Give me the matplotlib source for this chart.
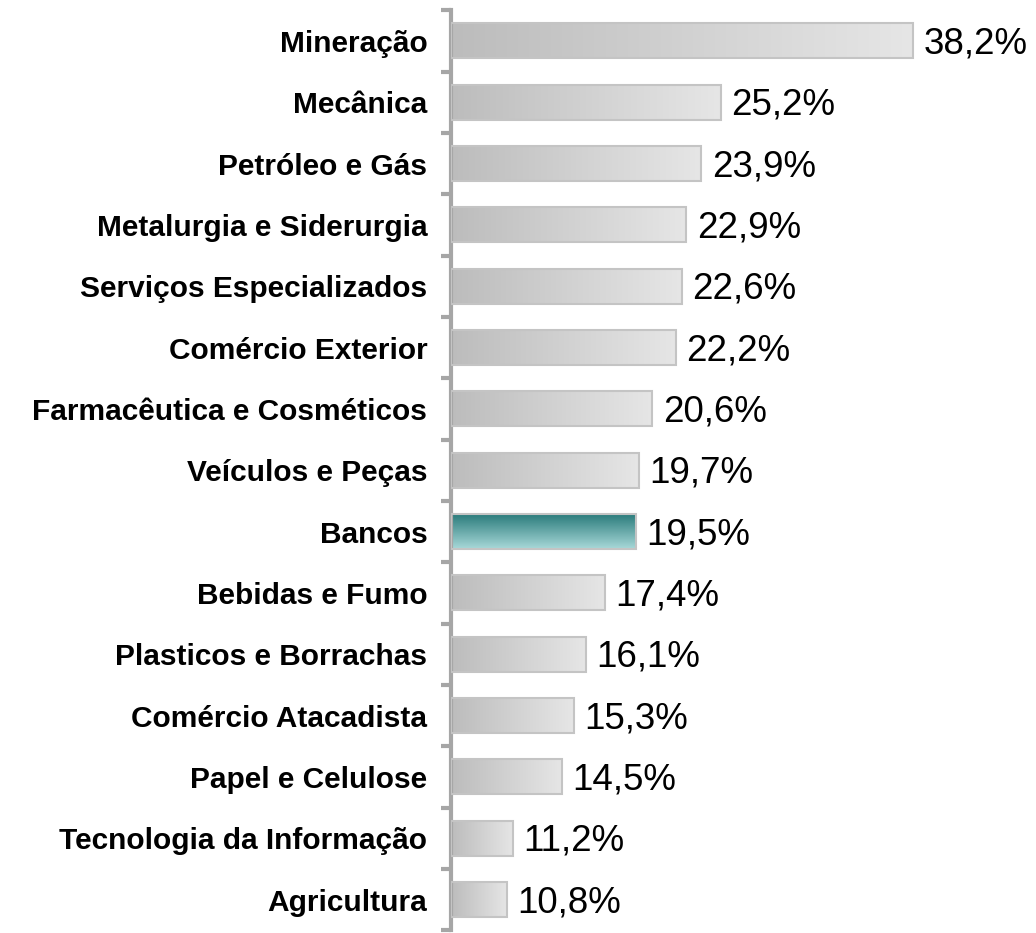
import numpy as np
import matplotlib.pyplot as plt
from matplotlib.colors import LinearSegmentedColormap

# data (top to bottom)
categories = ["Mineração", "Mecânica", "Petróleo e Gás", "Metalurgia e Siderurgia",
              "Serviços Especializados", "Comércio Exterior", "Farmacêutica e Cosméticos",
              "Veículos e Peças", "Bancos", "Bebidas e Fumo", "Plasticos e Borrachas",
              "Comércio Atacadista", "Papel e Celulose", "Tecnologia da Informação",
              "Agricultura"]
values = [38.2, 25.2, 23.9, 22.9, 22.6, 22.2, 20.6, 19.7, 19.5, 17.4, 16.1, 15.3, 14.5, 11.2, 10.8]
labels = ["38,2%", "25,2%", "23,9%", "22,9%", "22,6%", "22,2%", "20,6%", "19,7%", "19,5%",
          "17,4%", "16,1%", "15,3%", "14,5%", "11,2%", "10,8%"]
highlight = "Bancos"

plt.rcParams['font.family'] = ['Liberation Sans', 'DejaVu Sans']

fig = plt.figure(figsize=(10.36, 9.33), dpi=100)
ax = fig.add_axes([0.4353, 0.003, 0.5647, 0.986])

n = len(categories)
y = np.arange(n)[::-1]
x0 = 7.0
bars = ax.barh(y, np.array(values) - x0, left=x0, height=0.57,
               color='none', edgecolor='#c4c4c4', linewidth=1.5, zorder=3)

gray_cmap = LinearSegmentedColormap.from_list('g', ['#bcbcbc', '#e6e6e6'])
teal_cmap = LinearSegmentedColormap.from_list('t', ['#a9d9d9', '#2a7b7b'])
ramp = np.linspace(0, 1, 256)

# gradient fills clipped to each bar
for bar, cat in zip(bars, categories):
    bx, by = bar.get_x(), bar.get_y()
    bw, bh = bar.get_width(), bar.get_height()
    if cat == highlight:
        img = ax.imshow(ramp.reshape(-1, 1), cmap=teal_cmap, aspect='auto',
                        extent=(bx, bx + bw, by, by + bh), origin='lower', zorder=2)
    else:
        img = ax.imshow(ramp.reshape(1, -1), cmap=gray_cmap, aspect='auto',
                        extent=(bx, bx + bw, by, by + bh), origin='lower', zorder=2)
    img.set_clip_path(bar)

for yi, v, lab in zip(y, values, labels):
    ax.text(v + 0.7, yi - 0.05, lab, va='center', ha='left', fontsize=26.5, color='black')

ax.set_xlim(x0, 46.5)
ax.set_ylim(-0.5, n - 0.5)
ax.set_yticks(y)
ax.set_yticklabels(categories, fontsize=21.5, fontweight='bold')
ax.set_yticks(np.arange(n + 1) - 0.5, minor=True)
ax.tick_params(axis='y', which='major', length=0, pad=17)
ax.tick_params(axis='y', which='minor', length=7, width=3, color='#a6a6a6')
ax.set_xticks([])
for s in ['top', 'right', 'bottom']:
    ax.spines[s].set_visible(False)
ax.spines['left'].set_color('#a6a6a6')
ax.spines['left'].set_linewidth(3)

fig.savefig('out.png', dpi=100)
